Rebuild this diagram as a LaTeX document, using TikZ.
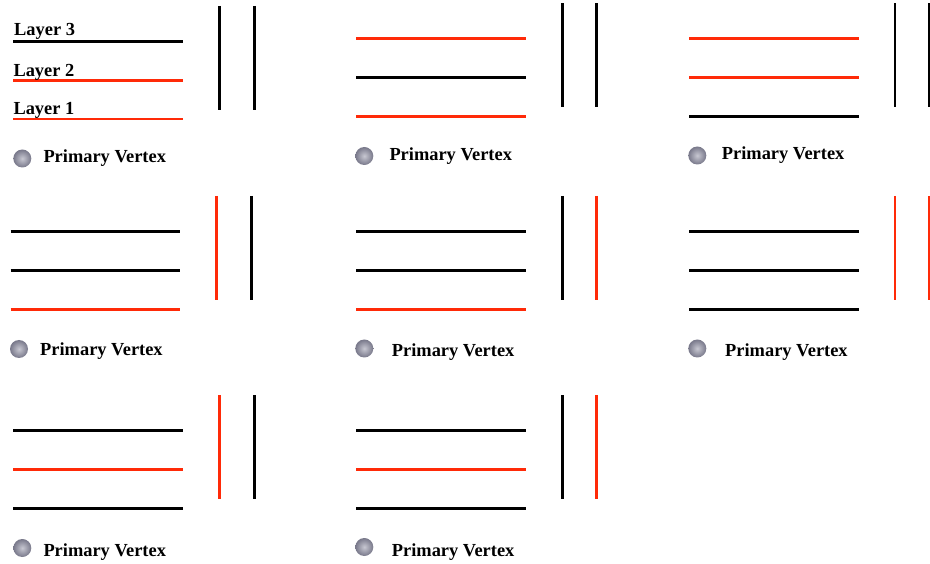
\documentclass[tikz,border=0pt]{standalone}
\usepackage{fontspec}
\setmainfont{Liberation Serif}
\definecolor{hitred}{RGB}{255,42,8}
\definecolor{vtxin}{RGB}{200,200,210}
\definecolor{vtxout}{RGB}{120,120,138}
\tikzset{
  blk/.style={line width=2.5pt, draw=black},
  rd/.style={line width=2.5pt, draw=hitred},
  vtx/.style={circle, minimum size=18pt, inner sep=0pt, shading=radial, inner color=vtxin, outer color=vtxout},
  lbl/.style={anchor=base west, inner sep=0pt, font=\fontsize{18.4}{20}\selectfont\bfseries},
}
\begin{document}
\begin{tikzpicture}[x=1pt,y=-1pt]
\useasboundingbox (0,0) rectangle (930,564);
% ---- Panel 1
\draw[blk] (13.3,41.7) -- (183.3,41.7);
\draw[rd]  (13.3,80.3) -- (183.3,80.3);
\draw[rd]  (13.3,119) -- (183.3,119);
\draw[blk] (219.3,6) -- (219.3,110);
\draw[blk] (254.3,6) -- (254.3,110);
\node[lbl] (l3) at (14,36) {Layer 3};
\node[lbl] (l2) at (13.3,77) {Layer 2};
\node[lbl] (l1) at (13.3,114.3) {Layer 1};
\node[vtx] (v1) at (22.3,158.5) {};
\node[lbl] (t1) at (43.3,163) {Primary Vertex};
% ---- Panel 2
\draw[rd]  (356,38.3) -- (526,38.3);
\draw[blk] (356,77.3) -- (526,77.3);
\draw[rd]  (356,116.3) -- (526,116.3);
\draw[blk] (562.3,3.3) -- (562.3,106.7);
\draw[blk] (596.7,3.3) -- (596.7,106.7);
\node[vtx] (v2) at (364.3,156) {};
\node[lbl] (t2) at (389.3,161) {Primary Vertex};
% ---- Panel 3
\draw[rd]  (689,38.3) -- (859,38.3);
\draw[rd]  (689,77.3) -- (859,77.3);
\draw[blk] (689,116.3) -- (859,116.3);
\draw[blk] (895,3.3) -- (895,106.7);
\draw[blk] (929,3.3) -- (929,106.7);
\node[vtx] (v3) at (697.3,155.5) {};
\node[lbl] (t3) at (721.7,160) {Primary Vertex};
% ---- Panel 4
\draw[blk] (10.7,231.3) -- (180.3,231.3);
\draw[blk] (10.7,270.3) -- (180.3,270.3);
\draw[rd]  (10.7,309.7) -- (180.3,309.7);
\draw[rd]  (216.7,196) -- (216.7,300);
\draw[blk] (251.3,196) -- (251.3,300);
\node[vtx] (v4) at (19,349) {};
\node[lbl] (t4) at (40,355.7) {Primary Vertex};
% ---- Panel 5
\draw[blk] (356,231.3) -- (526,231.3);
\draw[blk] (356,270.3) -- (526,270.3);
\draw[rd]  (356,309.7) -- (526,309.7);
\draw[blk] (562.3,196) -- (562.3,300);
\draw[rd]  (596.7,196) -- (596.7,300);
\node[vtx] (v5) at (364.3,348.5) {};
\node[lbl] (t5) at (391.7,356) {Primary Vertex};
% ---- Panel 6
\draw[blk] (689,231.3) -- (859,231.3);
\draw[blk] (689,270.3) -- (859,270.3);
\draw[blk] (689,309.7) -- (859,309.7);
\draw[rd]  (895,196) -- (895,300);
\draw[rd]  (929,196) -- (929,300);
\node[vtx] (v6) at (697.3,348.5) {};
\node[lbl] (t6) at (725,356) {Primary Vertex};
% ---- Panel 7
\draw[blk] (13.3,430.7) -- (183.3,430.7);
\draw[rd]  (13.3,469.3) -- (183.3,469.3);
\draw[blk] (13.3,508.3) -- (183.3,508.3);
\draw[rd]  (219.3,395) -- (219.3,499);
\draw[blk] (254.3,395) -- (254.3,499);
\node[vtx] (v7) at (22.3,548) {};
\node[lbl] (t7) at (43.3,556) {Primary Vertex};
% ---- Panel 8
\draw[blk] (356,430.7) -- (526,430.7);
\draw[rd]  (356,469.3) -- (526,469.3);
\draw[blk] (356,508.3) -- (526,508.3);
\draw[blk] (562.3,395) -- (562.3,499);
\draw[rd]  (596.7,395) -- (596.7,499);
\node[vtx] (v8) at (364.3,547) {};
\node[lbl] (t8) at (391.7,556) {Primary Vertex};
\end{tikzpicture}
\end{document}
